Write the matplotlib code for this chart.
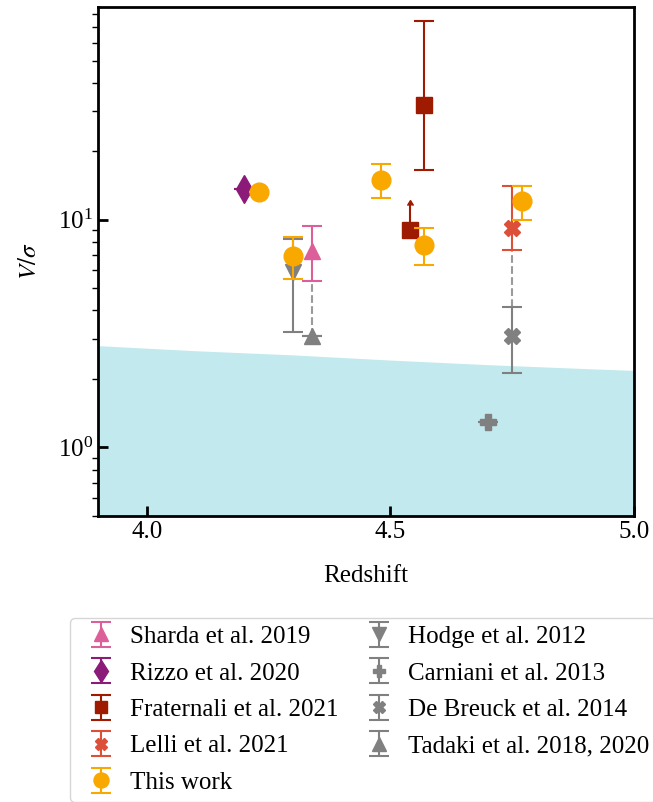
import matplotlib
matplotlib.use("Agg")
import matplotlib.pyplot as plt

plt.rcParams['font.family'] = ['Liberation Serif', 'DejaVu Serif']
plt.rcParams['mathtext.fontset'] = 'stix'
plt.rcParams['font.size'] = 18

# ---- data ----
# each sample: redshift, V/sigma, lower bound, upper bound
sharda_z = [4.34]
sharda_v = [7.28]
sharda_lo = [5.36]
sharda_hi = [9.35]

rizzo_z = [4.20]
rizzo_v = [13.6]
rizzo_lo = [13.6]
rizzo_hi = [13.6]

fraternali_z = [4.57]
fraternali_v = [31.8]
fraternali_lo = [16.6]
fraternali_hi = [75.0]

# lower limit from Fraternali et al.
fraternali_lim_z = [4.54]
fraternali_lim_v = [9.0]
fraternali_lim_up = [11.6]

lelli_z = [4.75]
lelli_v = [9.2]
lelli_lo = [7.35]
lelli_hi = [14.0]

this_z = [4.23, 4.30, 4.48, 4.57, 4.77]
this_v = [13.3, 6.92, 15.0, 7.73, 12.1]
this_lo = [13.3, 5.52, 12.4, 6.32, 10.0]
this_hi = [13.3, 8.36, 17.5, 9.16, 14.0]

hodge_z = [4.30]
hodge_v = [5.89]
hodge_lo = [3.21]
hodge_hi = [8.2]

carniani_z = [4.70]
carniani_v = [1.30]
carniani_lo = [1.30]
carniani_hi = [1.30]

debreuck_z = [4.75]
debreuck_v = [3.10]
debreuck_lo = [2.12]
debreuck_hi = [4.13]

tadaki_z = [4.34]
tadaki_v = [3.10]
tadaki_lo = [3.10]
tadaki_hi = [3.10]

# same galaxies in two works -> dashed link (z, from, to)
link_z = [4.34, 4.75]
link_from = [3.10, 4.13]
link_to = [5.36, 7.35]

# shaded region boundary
shade_z = [3.9, 4.1, 4.3, 4.5, 4.7, 4.9, 5.0]
shade_v = [2.80, 2.66, 2.55, 2.42, 2.31, 2.22, 2.18]


def yerr(v, lo, hi):
    return [[a - b for a, b in zip(v, lo)], [c - a for a, c in zip(v, hi)]]


fig = plt.figure(figsize=(6.53, 8.02), dpi=100)
ax = fig.add_axes([0.150, 0.3566, 0.821, 0.6347])

ax.fill_between(shade_z, 1e-3, shade_v, color='#c2e9ed', lw=0, zorder=0)

for z, a, b in zip(link_z, link_from, link_to):
    ax.plot([z, z], [a, b], ls='--', color='#9a9a9a', lw=1.5, zorder=1)

kw = dict(ls='none', capsize=7, elinewidth=1.5, capthick=1.5)
gray = '#808080'

ax.errorbar(sharda_z, sharda_v, yerr=yerr(sharda_v, sharda_lo, sharda_hi),
            fmt='^', ms=12, color='#dc5f9a', label='Sharda et al. 2019', zorder=3, **kw)
ax.errorbar(rizzo_z, rizzo_v, yerr=yerr(rizzo_v, rizzo_lo, rizzo_hi),
            fmt='d', ms=14, color='#8b1a78', label='Rizzo et al. 2020', zorder=3, **kw)
ax.errorbar(fraternali_z, fraternali_v, yerr=yerr(fraternali_v, fraternali_lo, fraternali_hi),
            fmt='s', ms=11, color='#9e1a00', label='Fraternali et al. 2021', zorder=3, **kw)
ax.errorbar(fraternali_lim_z, fraternali_lim_v,
            yerr=[[0], [u - v for u, v in zip(fraternali_lim_up, fraternali_lim_v)]],
            lolims=True, fmt='s', ms=11, color='#9e1a00', zorder=3,
            ls='none', capsize=2.5, elinewidth=1.5)
ax.errorbar(lelli_z, lelli_v, yerr=yerr(lelli_v, lelli_lo, lelli_hi),
            fmt='X', ms=11, color='#dc503a', label='Lelli et al. 2021', zorder=3, **kw)
ax.errorbar(this_z, this_v, yerr=yerr(this_v, this_lo, this_hi),
            fmt='o', ms=13.5, color='#f9a800', label='This work', zorder=5, **kw)
ax.errorbar(hodge_z, hodge_v, yerr=yerr(hodge_v, hodge_lo, hodge_hi),
            fmt='v', ms=12, color=gray, label='Hodge et al. 2012', zorder=2, **kw)
ax.errorbar(carniani_z, carniani_v, yerr=yerr(carniani_v, carniani_lo, carniani_hi),
            fmt='P', ms=11, color=gray, label='Carniani et al. 2013', zorder=2, **kw)
ax.errorbar(debreuck_z, debreuck_v, yerr=yerr(debreuck_v, debreuck_lo, debreuck_hi),
            fmt='X', ms=11, color=gray, label='De Breuck et al. 2014', zorder=2, **kw)
ax.errorbar(tadaki_z, tadaki_v, yerr=yerr(tadaki_v, tadaki_lo, tadaki_hi),
            fmt='^', ms=12, color=gray, label='Tadaki et al. 2018, 2020', zorder=2, **kw)

ax.set_yscale('log')
ax.set_xlim(3.9, 5.0)
ax.set_ylim(0.5, 86)
ax.set_xticks([4.0, 4.5, 5.0])
ax.set_xlabel('Redshift', labelpad=16)
ax.set_ylabel(r'$V/\sigma$', labelpad=12)

for s in ax.spines.values():
    s.set_linewidth(2)
ax.tick_params(which='major', direction='in', length=7, width=2)
ax.tick_params(which='minor', direction='out', length=4, width=1)
ax.tick_params(axis='x', which='minor', bottom=False)

ax.legend(loc='upper left', bbox_to_anchor=(70 / 653, 1 - 618 / 802),
          bbox_transform=fig.transFigure, ncol=2, borderaxespad=0,
          handlelength=1.88, handletextpad=0.22, columnspacing=0.66,
          labelspacing=0.56, borderpad=0.3, markerscale=0.8, fontsize=18)

fig.savefig('out.png', dpi=100)
